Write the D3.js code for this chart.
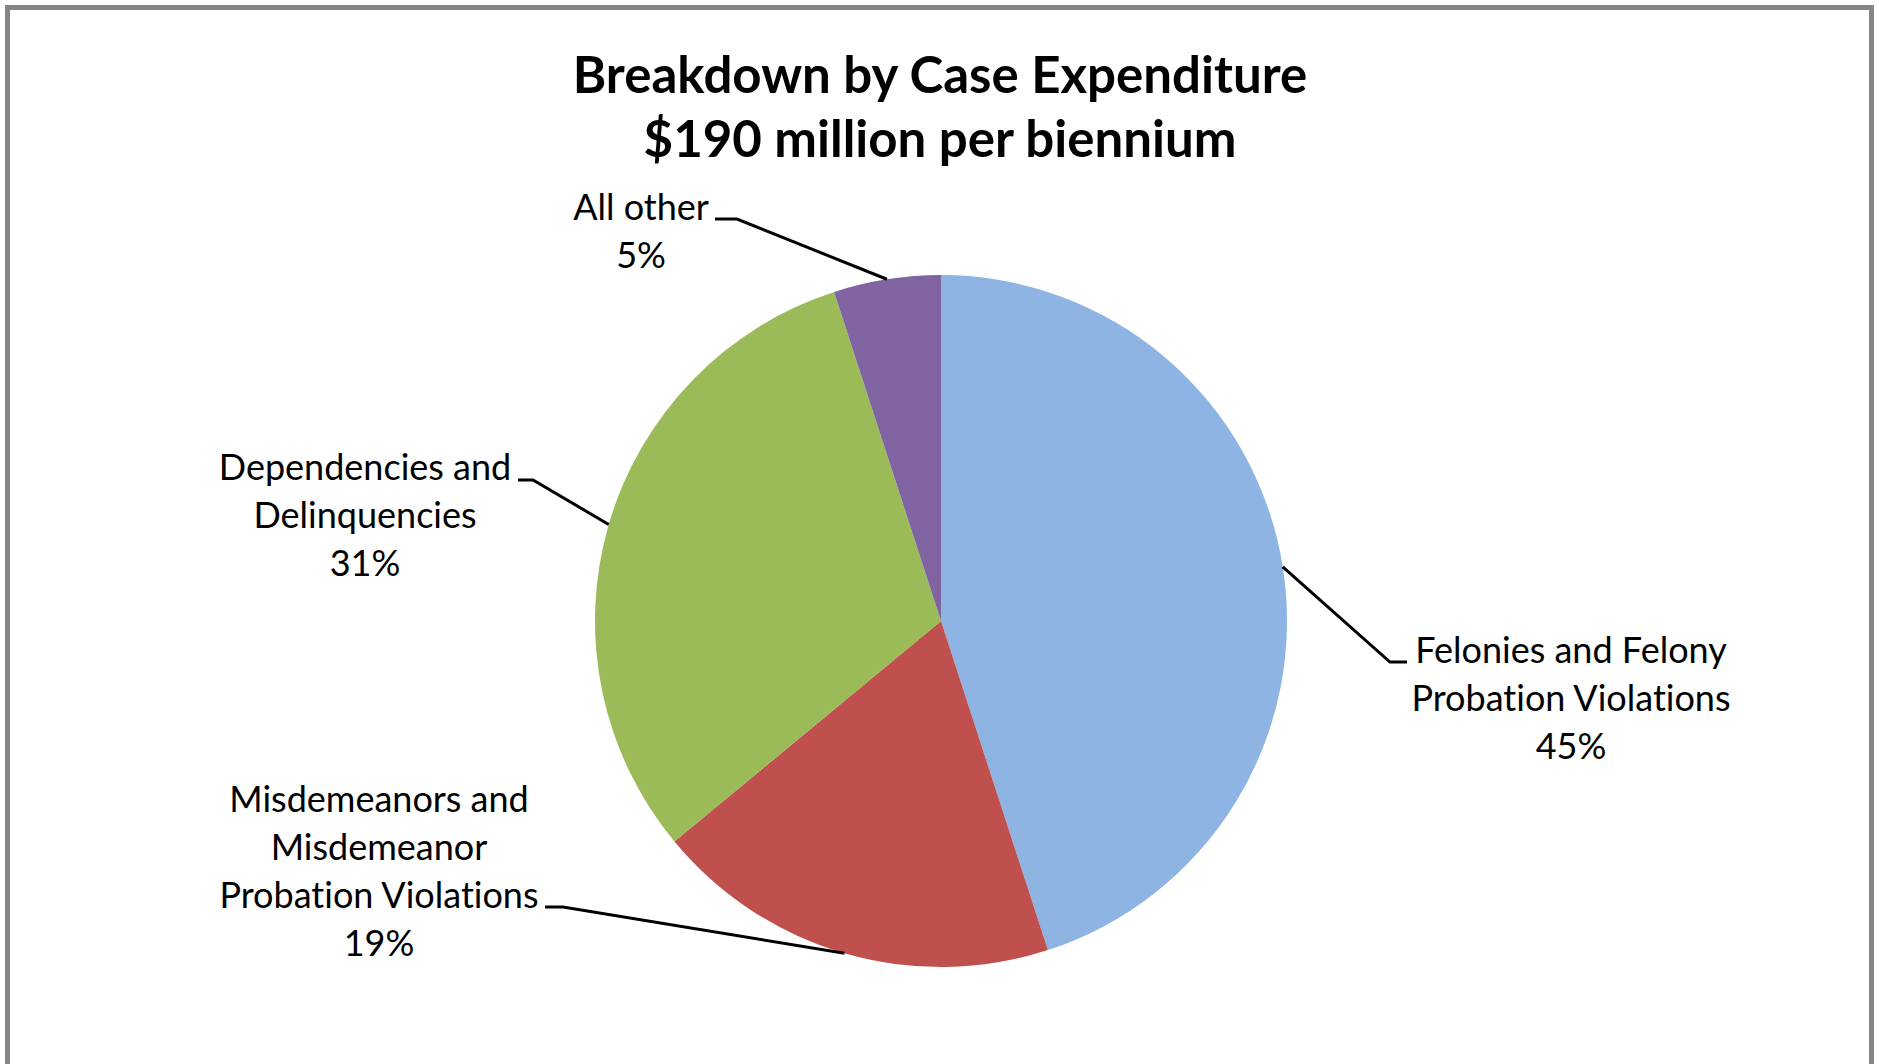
<!DOCTYPE html>
<html>
<head>
<meta charset="utf-8">
<script src="https://cdn.jsdelivr.net/npm/d3@7"></script>
<style>
  body { margin: 0; background: #fff; }
  svg { display: block; }
  text { font-variant-ligatures: none; }
  .title { font-family: Lato, "Open Sans", sans-serif; font-weight: bold; font-size: 51px; fill: #000; }
  .lbl { font-family: Lato, "Open Sans", sans-serif; font-size: 36px; fill: #000; }
  .leader { fill: none; stroke: #000; stroke-width: 3px; }
</style>
</head>
<body>
<svg id="chart"></svg>
<script>
// chart data
const categories = [
  "Felonies and Felony Probation Violations",
  "Misdemeanors and Misdemeanor Probation Violations",
  "Dependencies and Delinquencies",
  "All other"
];
const values = [45, 19, 31, 5];
const labelLines = [
  ["Felonies and Felony", "Probation Violations"],
  ["Misdemeanors and", "Misdemeanor", "Probation Violations"],
  ["Dependencies and", "Delinquencies"],
  ["All other"]
];
const titleLines = ["Breakdown by Case Expenditure", "$190 million per biennium"];

// styling / layout
const colors = ["#8EB4E3", "#C0504D", "#9BBB59", "#8064A2"];
// label placement relative to pie centre: text centre x, first baseline y,
// elbow of the leader and end of its short horizontal tail
const labelLayout = [
  {x: 630, y: 42, elbow: [449, 41], tail: 466},
  {x: -562, y: 191, elbow: [-378, 286], tail: -396},
  {x: -576, y: -141, elbow: [-408, -141], tail: -423},
  {x: -300, y: -401, elbow: [-204, -402], tail: -226}
];

const W = 1879, H = 1064;
const cx = 941, cy = 621, radius = 346;
const lineH = 48;

const svg = d3.select("#chart").attr("width", W).attr("height", H);

// outer frame (bottom edge falls outside the picture)
svg.append("rect")
  .attr("x", 7.5).attr("y", 7.5)
  .attr("width", W - 15).attr("height", H + 20)
  .attr("fill", "#fff")
  .attr("stroke", "#868686")
  .attr("stroke-width", 5);

// title
svg.append("g").selectAll("text")
  .data(titleLines)
  .join("text")
  .attr("class", "title")
  .attr("x", 940)
  .attr("y", (d, i) => 93 + i * 64)
  .attr("text-anchor", "middle")
  .text(d => d);

const pie = d3.pie().sort(null).value(d => d);
const arcs = pie(values);
const arc = d3.arc().innerRadius(0).outerRadius(radius);

const g = svg.append("g").attr("transform", "translate(" + cx + "," + cy + ")");

g.selectAll("path.slice")
  .data(arcs)
  .join("path")
  .attr("class", "slice")
  .attr("d", arc)
  .attr("fill", (d, i) => colors[i]);

// leader lines from slice mid-angle on the rim
g.selectAll("path.leader")
  .data(arcs)
  .join("path")
  .attr("class", "leader")
  .attr("d", (d, i) => {
    const a = (d.startAngle + d.endAngle) / 2;
    const p0 = [radius * Math.sin(a), -radius * Math.cos(a)];
    const L = labelLayout[i];
    return d3.line()([p0, L.elbow, [L.tail, L.elbow[1]]]);
  });

// labels
const fmt = d3.format(".0%");
const total = d3.sum(values);
g.selectAll("text.lbl")
  .data(arcs)
  .join("text")
  .attr("class", "lbl")
  .attr("text-anchor", "middle")
  .each(function (d, i) {
    const L = labelLayout[i];
    const lines = labelLines[i].concat([fmt(d.value / total)]);
    d3.select(this).selectAll("tspan")
      .data(lines)
      .join("tspan")
      .attr("x", L.x)
      .attr("y", (t, j) => L.y + j * lineH)
      .text(t => t);
  });
</script>
</body>
</html>
